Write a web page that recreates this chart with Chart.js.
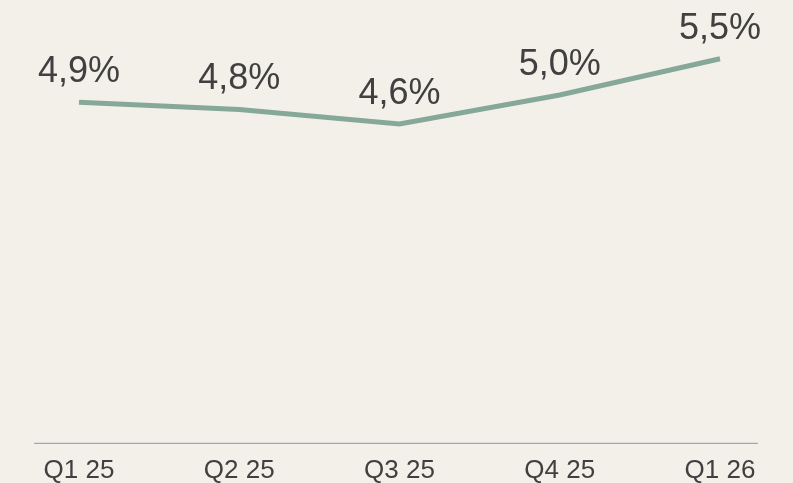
<!DOCTYPE html>
<html>

<head>
    <title>quarterly rate</title>
    <script src="https://cdn.jsdelivr.net/npm/chart.js"></script>
    <style>
        body { margin: 0; background: #f3f0ea; }
        canvas { display: block; }
    </style>
</head>

<body>
    <canvas id="myChart" width="793" height="483"></canvas>
    <script>
        // data
        const quarters = ['Q1 25', 'Q2 25', 'Q3 25', 'Q4 25', 'Q1 26'];
        const rates = [4.9, 4.8, 4.6, 5.0, 5.5];
        const yMin = 0.2;
        const yMax = 6.2;

        const textColor = '#404040';
        const lineColor = '#86a898';

        function fmt(v) {
            return v.toFixed(1).replace('.', ',') + '%';
        }

        // value labels over each point
        const valueLabels = {
            id: 'valueLabels',
            afterDatasetsDraw(chart) {
                const ctx = chart.ctx;
                const meta = chart.getDatasetMeta(0);
                ctx.save();
                ctx.font = '36px "Liberation Sans", Arial, sans-serif';
                ctx.fillStyle = textColor;
                ctx.textAlign = 'center';
                ctx.textBaseline = 'alphabetic';
                meta.data.forEach((pt, i) => {
                    ctx.fillText(fmt(rates[i]), pt.x, pt.y - 20);
                });
                ctx.restore();
            }
        };

        // bottom axis line, a bit wider than the plot
        const baseLine = {
            id: 'baseLine',
            beforeDatasetsDraw(chart) {
                const ctx = chart.ctx;
                const a = chart.chartArea;
                ctx.save();
                ctx.strokeStyle = '#a6a6a6';
                ctx.lineWidth = 1.3;
                ctx.beginPath();
                ctx.moveTo(a.left - 45, a.bottom + 0.5);
                ctx.lineTo(a.right + 38, a.bottom + 0.5);
                ctx.stroke();
                ctx.restore();
            }
        };

        const ctx = document.getElementById('myChart').getContext('2d');
        new Chart(ctx, {
            type: 'line',
            data: {
                labels: quarters,
                datasets: [{
                    data: rates,
                    borderColor: lineColor,
                    borderWidth: 5,
                    pointRadius: 0,
                    tension: 0,
                    fill: false
                }]
            },
            options: {
                responsive: false,
                animation: false,
                layout: { padding: { left: 79, right: 73, top: 8, bottom: -15 } },
                plugins: {
                    legend: { display: false },
                    tooltip: { enabled: false }
                },
                scales: {
                    x: {
                        offset: false,
                        grid: { display: false, drawTicks: false },
                        border: { display: false },
                        ticks: {
                            color: textColor,
                            padding: 12,
                            maxRotation: 0,
                            font: { family: '"Liberation Sans", Arial, sans-serif', size: 26 }
                        }
                    },
                    y: {
                        display: false,
                        min: yMin,
                        max: yMax
                    }
                }
            },
            plugins: [valueLabels, baseLine]
        });
    </script>
</body>

</html>
